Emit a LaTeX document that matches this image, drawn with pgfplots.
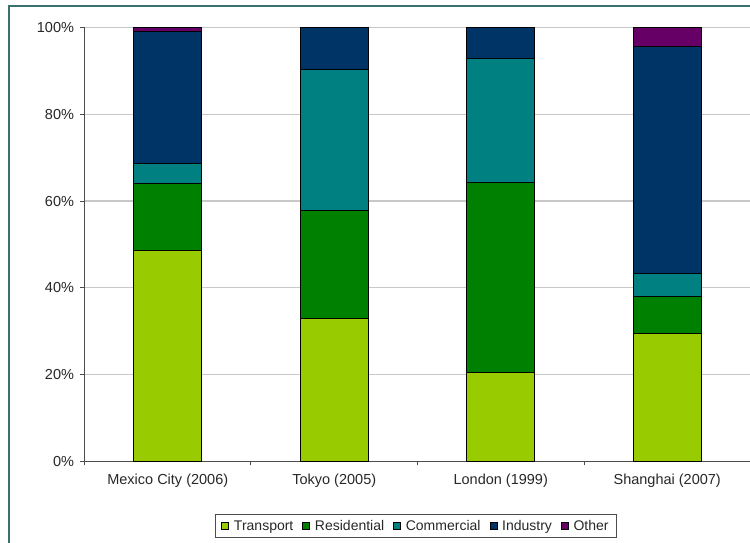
\documentclass[border=0pt]{standalone}
\usepackage{pgfplots}
\pgfplotsset{compat=1.18}
\usepackage{fontspec}
\setmainfont{Liberation Sans}

\definecolor{transport}{RGB}{153,204,0}
\definecolor{residential}{RGB}{0,128,0}
\definecolor{commercial}{RGB}{0,128,128}
\definecolor{industry}{RGB}{0,51,102}
\definecolor{other}{RGB}{102,0,102}
\definecolor{framecol}{RGB}{58,112,112}
\definecolor{gridcol}{RGB}{200,200,200}
\definecolor{txt}{RGB}{40,40,40}

\begin{document}
\begin{tikzpicture}[x=1pt,y=1pt]
% white page behind the chart (page coordinates: origin top-left, y downwards)
\begin{scope}[shift={(-84.5,461.5)}, yscale=-1]
  \fill[white] (0,0) rectangle (750,543);
\end{scope}

\begin{axis}[
  at={(0,0)}, anchor=south west,
  scale only axis,
  width=666pt, height=434pt,
  ybar stacked,
  bar width=68pt,
  xmin=-0.5, xmax=3.5,
  ymin=0, ymax=100,
  axis x line*=bottom,
  axis y line*=left,
  axis line style={draw=black!70, line width=1pt},
  xtick={0,1,2,3},
  xticklabels={Mexico City (2006),Tokyo (2005),London (1999),Shanghai (2007)},
  minor xtick={-0.5,0.5,1.5,2.5,3.5},
  xtick style={draw=none},
  minor tick length=4pt,
  ytick={0,20,...,100},
  yticklabel={\pgfmathprintnumber{\tick}\%},
  ymajorgrids,
  grid style={draw=gridcol, line width=1.2pt},
  tick align=outside,
  major tick length=4pt,
  ytick style={draw=black!70, line width=1pt},
  minor x tick style={draw=black!70, line width=1pt},
  tick label style={font=\fontsize{14.5}{16}\selectfont, text=txt},
  /pgf/number format/assume math mode=true,
  xticklabel style={yshift=-5pt},
  yticklabel style={xshift=-3pt},
  every axis plot/.append style={draw=black, line width=0.8pt},
  legend style={
    at={(rel axis cs:0.4977,-0.1486)}, anchor=center, legend columns=-1,
    draw=black!70, line width=1.2pt,
    font=\fontsize{14}{16}\selectfont, text=txt,
    inner xsep=6pt, inner ysep=3.5pt,
    /tikz/every odd column/.append style={column sep=3pt},
    /tikz/every even column/.append style={column sep=7pt},
  },
  legend cell align=left,
  legend image code/.code={
    \draw[#1, line width=0.6pt, draw=black] (0pt,-3.5pt) rectangle (7pt,3.5pt);
  },
  clip=false,
]
\addplot[fill=transport]   coordinates {(0,48.6) (1,32.9) (2,20.6) (3,29.5)};
\addplot[fill=residential] coordinates {(0,15.5) (1,25.0) (2,43.7) (3,8.6)};
\addplot[fill=commercial]  coordinates {(0,4.5)  (1,32.5) (2,28.6) (3,5.3)};
\addplot[fill=industry]    coordinates {(0,30.4) (1,9.6)  (2,7.1)  (3,52.3)};
\addplot[fill=other]       coordinates {(0,1.0)  (1,0)    (2,0)    (3,4.3)};
\legend{Transport,Residential,Commercial,Industry,Other}
\end{axis}

% fixed page size, then the outer chart frame running off the right and bottom edges
\pgfresetboundingbox
\begin{scope}[shift={(-84.5,461.5)}, yscale=-1]
  \useasboundingbox (0,0) rectangle (750,543);
  \draw[framecol, line width=2pt] (9,560) -- (9,6) -- (770,6);
\end{scope}
\end{tikzpicture}
\end{document}
